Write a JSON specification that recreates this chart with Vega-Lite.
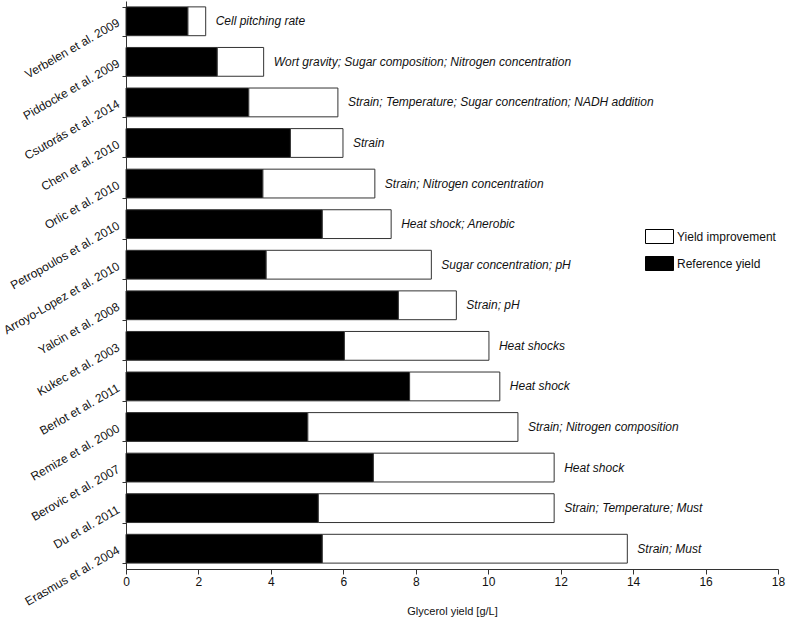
{
  "$schema": "https://vega.github.io/schema/vega-lite/v6.json",
  "width": 652,
  "height": 568,
  "autosize": {"type": "none"},
  "padding": {"left": 126, "top": 1, "right": 9, "bottom": 54},
  "background": "white",
  "config": {
    "view": {"stroke": null},
    "font": "Liberation Sans",
    "axis": {"labelFont": "Liberation Sans", "titleFont": "Liberation Sans", "labelColor": "#111", "titleColor": "#111", "domainColor": "#333", "tickColor": "#333", "grid": false}
  },
  "data": {
    "values": [
      {"study": "Verbelen et al. 2009", "type": "Reference yield", "value": 1.71, "note": "Cell pitching rate"},
      {"study": "Verbelen et al. 2009", "type": "Yield improvement", "value": 0.49, "note": "Cell pitching rate"},
      {"study": "Piddocke et al. 2009", "type": "Reference yield", "value": 2.52, "note": "Wort gravity; Sugar composition; Nitrogen concentration"},
      {"study": "Piddocke et al. 2009", "type": "Yield improvement", "value": 1.28, "note": "Wort gravity; Sugar composition; Nitrogen concentration"},
      {"study": "Csutorás et al. 2014", "type": "Reference yield", "value": 3.39, "note": "Strain; Temperature; Sugar concentration; NADH addition"},
      {"study": "Csutorás et al. 2014", "type": "Yield improvement", "value": 2.46, "note": "Strain; Temperature; Sugar concentration; NADH addition"},
      {"study": "Chen et al. 2010", "type": "Reference yield", "value": 4.54, "note": "Strain"},
      {"study": "Chen et al. 2010", "type": "Yield improvement", "value": 1.45, "note": "Strain"},
      {"study": "Orlic et al. 2010", "type": "Reference yield", "value": 3.78, "note": "Strain; Nitrogen concentration"},
      {"study": "Orlic et al. 2010", "type": "Yield improvement", "value": 3.09, "note": "Strain; Nitrogen concentration"},
      {"study": "Petropoulos et al. 2010", "type": "Reference yield", "value": 5.42, "note": "Heat shock; Anerobic"},
      {"study": "Petropoulos et al. 2010", "type": "Yield improvement", "value": 1.9, "note": "Heat shock; Anerobic"},
      {"study": "Arroyo-Lopez et al. 2010", "type": "Reference yield", "value": 3.87, "note": "Sugar concentration; pH"},
      {"study": "Arroyo-Lopez et al. 2010", "type": "Yield improvement", "value": 4.56, "note": "Sugar concentration; pH"},
      {"study": "Yalcin et al. 2008", "type": "Reference yield", "value": 7.52, "note": "Strain; pH"},
      {"study": "Yalcin et al. 2008", "type": "Yield improvement", "value": 1.6, "note": "Strain; pH"},
      {"study": "Kukec et al. 2003", "type": "Reference yield", "value": 6.03, "note": "Heat shocks"},
      {"study": "Kukec et al. 2003", "type": "Yield improvement", "value": 3.99, "note": "Heat shocks"},
      {"study": "Berlot et al. 2011", "type": "Reference yield", "value": 7.83, "note": "Heat shock"},
      {"study": "Berlot et al. 2011", "type": "Yield improvement", "value": 2.49, "note": "Heat shock"},
      {"study": "Remize et al. 2000", "type": "Reference yield", "value": 5.02, "note": "Strain; Nitrogen composition"},
      {"study": "Remize et al. 2000", "type": "Yield improvement", "value": 5.8, "note": "Strain; Nitrogen composition"},
      {"study": "Berovic et al. 2007", "type": "Reference yield", "value": 6.83, "note": "Heat shock"},
      {"study": "Berovic et al. 2007", "type": "Yield improvement", "value": 4.99, "note": "Heat shock"},
      {"study": "Du et al. 2011", "type": "Reference yield", "value": 5.31, "note": "Strain; Temperature; Must"},
      {"study": "Du et al. 2011", "type": "Yield improvement", "value": 6.51, "note": "Strain; Temperature; Must"},
      {"study": "Erasmus et al. 2004", "type": "Reference yield", "value": 5.42, "note": "Strain; Must"},
      {"study": "Erasmus et al. 2004", "type": "Yield improvement", "value": 8.42, "note": "Strain; Must"}
    ]
  },
  "encoding": {
    "y": {
      "field": "study",
      "type": "nominal",
      "sort": ["Verbelen et al. 2009", "Piddocke et al. 2009", "Csutorás et al. 2014", "Chen et al. 2010", "Orlic et al. 2010", "Petropoulos et al. 2010", "Arroyo-Lopez et al. 2010", "Yalcin et al. 2008", "Kukec et al. 2003", "Berlot et al. 2011", "Remize et al. 2000", "Berovic et al. 2007", "Du et al. 2011", "Erasmus et al. 2004"],
      "scale": {"paddingInner": 0.29, "paddingOuter": 0.145},
      "axis": {
        "title": null,
        "labelAngle": -30,
        "labelAlign": "right",
        "labelBaseline": "middle",
        "labelFontSize": 12,
        "labelPadding": 4,
        "tickSize": 4,
        "tickBand": "extent",
        "labelOverlap": false
      }
    }
  },
  "layer": [
    {
      "mark": {"type": "bar", "stroke": "#333", "strokeWidth": 1},
      "encoding": {
        "x": {
          "field": "value",
          "type": "quantitative",
          "stack": "zero",
          "scale": {"domain": [0, 18], "nice": false},
          "axis": {
            "title": "Glycerol yield [g/L]",
            "values": [0, 2, 4, 6, 8, 10, 12, 14, 16, 18],
            "labelFontSize": 12,
            "titleFontSize": 11,
            "titleFontWeight": "normal",
            "titlePadding": 18,
            "tickSize": 5,
            "labelPadding": 2,
            "labelFlush": false
          }
        },
        "color": {
          "field": "type",
          "type": "nominal",
          "scale": {"domain": ["Yield improvement", "Reference yield"], "range": ["white", "black"]},
          "legend": {
            "title": null,
            "orient": "none",
            "legendX": 519,
            "legendY": 221,
            "symbolType": "M-1,-0.5L1,-0.5L1,0.5L-1,0.5Z",
            "symbolSize": 784,
            "symbolStrokeColor": "black",
            "symbolStrokeWidth": 1,
            "symbolOpacity": 1,
            "labelFontSize": 12,
            "labelFont": "Liberation Sans",
            "labelColor": "#111",
            "labelOffset": 3,
            "rowPadding": 3
          }
        },
        "order": {"field": "type", "sort": "ascending"}
      }
    },
    {
      "mark": {"type": "text", "align": "left", "baseline": "middle", "dx": 10, "fontStyle": "italic", "fontSize": 12, "font": "Liberation Sans", "color": "#111"},
      "encoding": {
        "x": {"aggregate": "sum", "field": "value", "type": "quantitative"},
        "text": {"field": "note", "type": "nominal"}
      }
    }
  ]
}
